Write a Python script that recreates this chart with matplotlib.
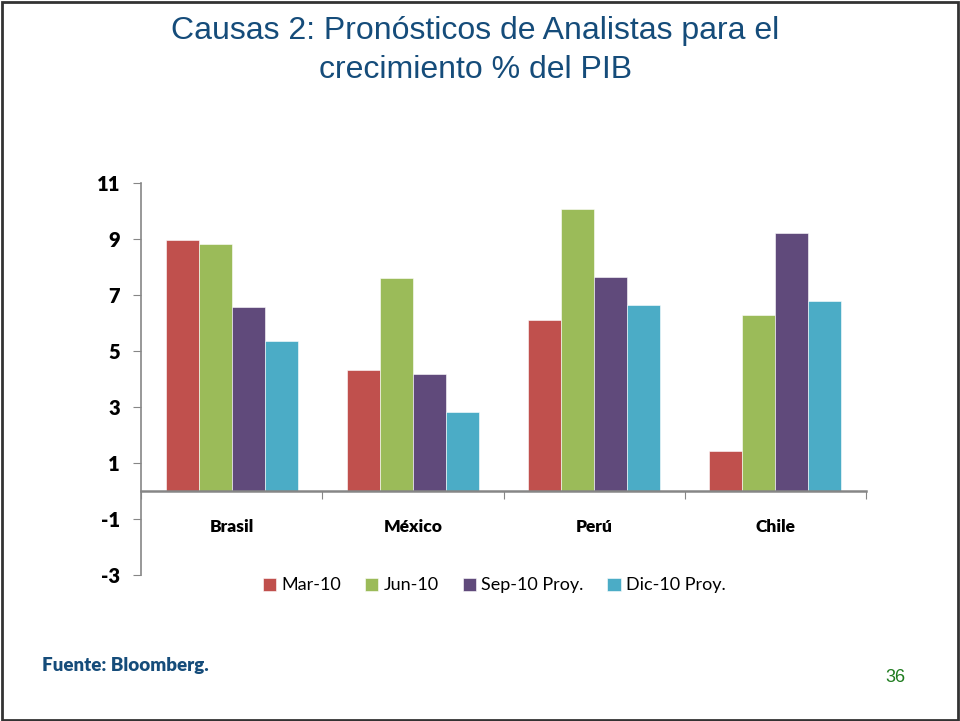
import matplotlib.pyplot as plt
from matplotlib.patches import Rectangle
import numpy as np

plt.rcParams['axes.unicode_minus'] = False

# Data
countries = ['Brasil', 'México', 'Perú', 'Chile']
series_names = ['Mar-10', 'Jun-10', 'Sep-10 Proy.', 'Dic-10 Proy.']
mar10 = [8.95, 4.32, 6.10, 1.43]
jun10 = [8.82, 7.60, 10.08, 6.29]
sep10 = [6.57, 4.18, 7.65, 9.23]
dic10 = [5.36, 2.82, 6.65, 6.80]
y_ticks = [-3, -1, 1, 3, 5, 7, 9, 11]

colors = ['#C0504D', '#9BBB59', '#604A7B', '#4BACC6']

fig = plt.figure(figsize=(9.6, 7.21), dpi=100)
ax = fig.add_axes([0.1469, 0.2025, 0.7553, 0.5437])

x = np.arange(len(countries))
width = 0.182
for i, vals in enumerate([mar10, jun10, sep10, dic10]):
	ax.bar(x + (i - 1.5) * width, vals, width, color=colors[i], label=series_names[i],
		edgecolor='white', linewidth=0.4)

ax.set_xlim(-0.5, 3.5)
ax.set_ylim(-3, 11)

# spines
for s in ['top', 'right']:
	ax.spines[s].set_visible(False)
ax.spines['left'].set_color('#868686')
ax.spines['left'].set_linewidth(1.2)
ax.spines['bottom'].set_color('#868686')
ax.spines['bottom'].set_linewidth(1.8)
ax.spines['bottom'].set_position(('data', 0))

ax.set_yticks(y_ticks)
ax.tick_params(axis='y', direction='out', length=6, color='#868686', pad=9)
for lbl in ax.get_yticklabels():
	lbl.set_fontfamily('Lato')
	lbl.set_fontweight('heavy')
	lbl.set_fontsize(14.5)

# category boundaries as major ticks, names as minor ticks
ax.set_xticks(np.arange(-0.5, 4.0, 1.0))
ax.set_xticklabels([])
ax.set_xticks(x, minor=True)
ax.set_xticklabels(countries, minor=True, fontfamily='Lato', fontweight='heavy', fontsize=12.5)
ax.tick_params(axis='x', which='major', direction='out', length=6, color='#868686')
ax.tick_params(axis='x', which='minor', length=0, pad=20)

leg = fig.legend(loc='center', bbox_to_anchor=(0.515, 0.188), ncol=4, frameon=False,
	prop={'family': 'Lato', 'size': 13}, handlelength=0.75, handleheight=0.75,
	handletextpad=0.3, columnspacing=1.3)

# title and notes
fig.text(0.495, 0.957, 'Causas 2: Pronósticos de Analistas para el', ha='center', va='center',
	fontfamily='Liberation Sans', fontsize=23, color='#154C7A')
fig.text(0.495, 0.903, 'crecimiento % del PIB', ha='center', va='center',
	fontfamily='Liberation Sans', fontsize=23, color='#154C7A')
fig.text(0.044, 0.077, 'Fuente: Bloomberg.', ha='left', va='center',
	fontfamily='Lato', fontweight='heavy', fontsize=13.5, color='#154C7A')
fig.text(0.933, 0.061, '36', ha='center', va='center',
	fontfamily='Liberation Sans', fontsize=13, color='#1E7B1E')

# slide border
fig.patches.append(Rectangle((0.002, 0.002), 0.996, 0.995, transform=fig.transFigure,
	fill=False, edgecolor='#333333', linewidth=2))

fig.savefig('out.png', dpi=100)
